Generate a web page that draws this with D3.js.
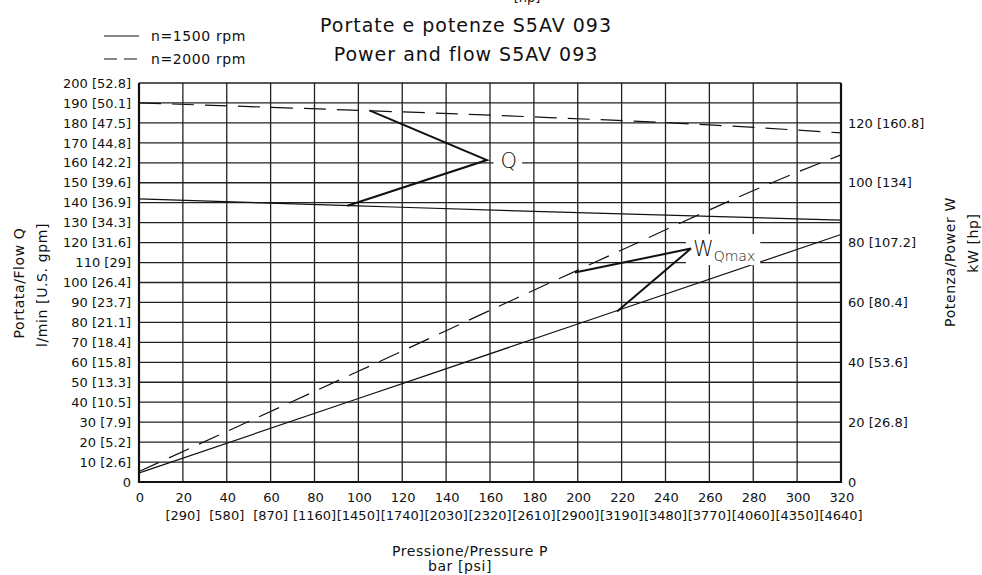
<!DOCTYPE html>
<html>
<head>
<meta charset="utf-8">
<script src="https://cdn.jsdelivr.net/npm/d3@7"></script>
<style>
  body { margin: 0; background: #fff; }
  svg { font-family: "DejaVu Sans", sans-serif; fill: #111; }
  .tick-label { font-size: 13px; }
  .axis-title { font-size: 14px; letter-spacing: 0.6px; }
  .title { font-size: 19px; letter-spacing: 1px; }
  .callout { font-size: 21px; font-weight: 300; }
</style>
</head>
<body>
<div id="chart"></div>
<script>
// pressure [bar] ticks and their psi equivalents
const pressureTicks = [0, 20, 40, 60, 80, 100, 120, 140, 160, 180, 200, 220, 240, 260, 280, 300, 320];
const psiLabels = ["", "[290]", "[580]", "[870]", "[1160]", "[1450]", "[1740]", "[2030]", "[2320]", "[2610]", "[2900]", "[3190]", "[3480]", "[3770]", "[4060]", "[4350]", "[4640]"];

// flow axis l/min and U.S. gpm
const flowTicks = [0, 10, 20, 30, 40, 50, 60, 70, 80, 90, 100, 110, 120, 130, 140, 150, 160, 170, 180, 190, 200];
const gpmLabels = ["", "[2.6]", "[5.2]", "[7.9]", "[10.5]", "[13.3]", "[15.8]", "[18.4]", "[21.1]", "[23.7]", "[26.4]", "[29]", "[31.6]", "[34.3]", "[36.9]", "[39.6]", "[42.2]", "[44.8]", "[47.5]", "[50.1]", "[52.8]"];

// power axis kW and hp
const powerTicks = [0, 20, 40, 60, 80, 100, 120];
const hpLabels = ["", "[26.8]", "[53.6]", "[80.4]", "[107.2]", "[134]", "[160.8]"];

// curves: [bar, value]
const flow1500 = [[0, 141.9], [100, 138.4], [200, 135], [320, 131.3]];
const flow2000 = [[0, 190], [100, 186.3], [180, 183], [260, 179], [320, 175]];
const power1500 = [[0, 3], [100, 27.9], [200, 52.8], [320, 82.7]];
const power2000 = [[0, 3.5], [100, 37], [200, 70.8], [300, 103.5], [320, 109.3]];

// annotation callouts: apex and the two curve points the arms reach
const flowCallout = { apex: [158.6, 161.4], arms: [[105, 186.3], [95, 138.5]], text: [168.6, 161.4] };
const powerCallout = { apex: [251.6, 78], arms: [[198.7, 70], [217.9, 57]], text: [252.5, 78] };

const width = 982;
const height = 575;
const margin = { top: 83, right: 141, bottom: 93, left: 139 };

const x = d3.scaleLinear().domain([0, 320]).range([margin.left, width - margin.right]);
const y = d3.scaleLinear().domain([0, 200]).range([height - margin.bottom, margin.top]);
// 20 kW spans 30 l/min on the drawing
const y2 = d3.scaleLinear().domain([0, 133.33]).range([height - margin.bottom, margin.top]);

const svg = d3.select("#chart")
  .append("svg")
  .attr("width", width)
  .attr("height", height);

// grid
const grid = svg.append("g").attr("stroke", "#222").attr("stroke-width", 1.3);
grid.selectAll(".hline")
  .data(flowTicks)
  .join("line")
  .attr("x1", x(0)).attr("x2", x(320))
  .attr("y1", (d) => y(d)).attr("y2", (d) => y(d));
grid.selectAll(".vline")
  .data(pressureTicks)
  .join("line")
  .attr("x1", (d) => x(d)).attr("x2", (d) => x(d))
  .attr("y1", y(0)).attr("y2", y(200));

// frame
svg.append("path")
  .attr("fill", "none")
  .attr("stroke", "#111")
  .attr("stroke-width", 2.2)
  .attr("d", `M${x(0)},${y(200)}V${y(0)}H${x(320)}V${y(200)}`);

// tick labels
svg.append("g").selectAll("text")
  .data(flowTicks)
  .join("text")
  .attr("class", "tick-label")
  .attr("text-anchor", "end")
  .attr("x", x(0) - 8)
  .attr("y", (d) => y(d))
  .attr("dy", "0.36em")
  .text((d, i) => (gpmLabels[i] ? `${d} ${gpmLabels[i]}` : `${d}`));

svg.append("g").selectAll("text")
  .data(powerTicks)
  .join("text")
  .attr("class", "tick-label")
  .attr("x", x(320) + 7)
  .attr("y", (d) => y2(d))
  .attr("dy", "0.36em")
  .text((d, i) => (hpLabels[i] ? `${d} ${hpLabels[i]}` : `${d}`));

svg.append("g").selectAll("text")
  .data(pressureTicks)
  .join("text")
  .attr("class", "tick-label")
  .attr("text-anchor", "middle")
  .attr("x", (d) => x(d) + 1)
  .attr("y", y(0) + 20)
  .text((d) => d);

svg.append("g").selectAll("text")
  .data(pressureTicks)
  .join("text")
  .attr("class", "tick-label")
  .attr("text-anchor", "middle")
  .attr("x", (d) => x(d))
  .attr("y", y(0) + 38)
  .text((d, i) => psiLabels[i]);

// curves
const lineFlow = d3.line().x((d) => x(d[0])).y((d) => y(d[1])).curve(d3.curveMonotoneX);
const linePower = d3.line().x((d) => x(d[0])).y((d) => y2(d[1])).curve(d3.curveMonotoneX);

const curves = [
  { data: flow1500, line: lineFlow, dash: null },
  { data: flow2000, line: lineFlow, dash: "22,11" },
  { data: power1500, line: linePower, dash: null },
  { data: power2000, line: linePower, dash: "22,11" },
];

svg.append("g")
  .selectAll("path")
  .data(curves)
  .join("path")
  .attr("fill", "none")
  .attr("stroke", "#111")
  .attr("stroke-width", 1.2)
  .attr("stroke-dasharray", (d) => d.dash)
  .attr("d", (d) => d.line(d.data));

// callouts
function callout(c, yScale, draw) {
  const g = svg.append("g");
  const box = g.append("rect").attr("fill", "#fff");
  const label = g.append("text")
    .attr("class", "callout")
    .attr("x", x(c.text[0]))
    .attr("y", yScale(c.text[1]))
    .attr("dy", "0.36em");
  draw(label);
  const b = label.node().getBBox();
  box.attr("x", b.x - 7).attr("y", b.y - 3).attr("width", b.width + 12).attr("height", b.height + 4);
  g.append("path")
    .attr("fill", "none")
    .attr("stroke", "#111")
    .attr("stroke-width", 2)
    .attr("d", `M${x(c.arms[0][0])},${yScale(c.arms[0][1])}L${x(c.apex[0])},${yScale(c.apex[1])}L${x(c.arms[1][0])},${yScale(c.arms[1][1])}`);
}

callout(flowCallout, y, (t) => t.attr("text-anchor", "middle").text("Q"));
callout(powerCallout, y2, (t) => {
  t.append("tspan").text("W");
  t.append("tspan").attr("dy", "0.35em").style("font-size", "14px").text("Qmax");
});

// titles
svg.append("text")
  .attr("class", "title")
  .attr("text-anchor", "middle")
  .attr("x", 466).attr("y", 32)
  .text("Portate e potenze S5AV 093");
svg.append("text")
  .attr("class", "title")
  .attr("text-anchor", "middle")
  .attr("x", 466).attr("y", 61)
  .text("Power and flow S5AV 093");
svg.append("text")
  .attr("class", "tick-label")
  .attr("text-anchor", "middle")
  .attr("x", 527).attr("y", 2)
  .text("[hp]");

// legend
const legend = svg.append("g");
const legendItems = [
  { label: "n=1500 rpm", dash: null },
  { label: "n=2000 rpm", dash: "13,7" },
];
legend.selectAll("line")
  .data(legendItems)
  .join("line")
  .attr("x1", 104).attr("x2", 139)
  .attr("y1", (d, i) => 36 + i * 23).attr("y2", (d, i) => 36 + i * 23)
  .attr("stroke", "#111")
  .attr("stroke-width", 1.2)
  .attr("stroke-dasharray", (d) => d.dash);
legend.selectAll("text")
  .data(legendItems)
  .join("text")
  .attr("class", "axis-title")
  .attr("x", 151)
  .attr("y", (d, i) => 36 + i * 23)
  .attr("dy", "0.36em")
  .text((d) => d.label);

// axis titles
svg.append("text")
  .attr("class", "axis-title")
  .attr("text-anchor", "middle")
  .attr("transform", `translate(24,283)rotate(-90)`)
  .text("Portata/Flow Q");
svg.append("text")
  .attr("class", "axis-title")
  .attr("text-anchor", "middle")
  .attr("transform", `translate(47,285)rotate(-90)`)
  .text("l/min [U.S. gpm]");
svg.append("text")
  .attr("class", "axis-title")
  .attr("text-anchor", "middle")
  .attr("transform", `translate(955,262)rotate(-90)`)
  .text("Potenza/Power W");
svg.append("text")
  .attr("class", "axis-title")
  .attr("text-anchor", "middle")
  .attr("transform", `translate(978,243)rotate(-90)`)
  .text("kW [hp]");
svg.append("text")
  .attr("class", "axis-title")
  .attr("text-anchor", "middle")
  .attr("x", 470).attr("y", 556)
  .text("Pressione/Pressure P");
svg.append("text")
  .attr("class", "axis-title")
  .attr("text-anchor", "middle")
  .attr("x", 460).attr("y", 571)
  .text("bar [psi]");
</script>
</body>
</html>
